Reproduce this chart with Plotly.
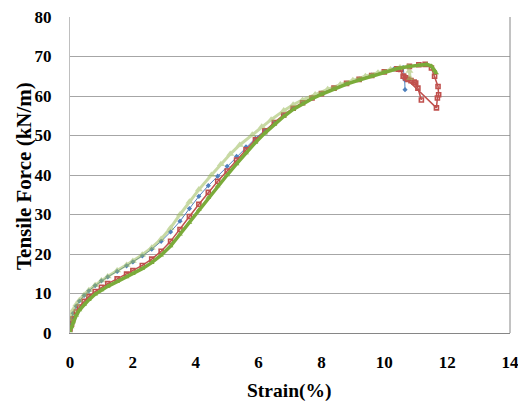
import plotly.graph_objects as go

# ---- data ----
blue_x = [0, 0.05, 0.1, 0.2, 0.3, 0.45, 0.6, 0.8, 1.0, 1.2, 1.5, 1.8, 2.0, 2.3, 2.6, 2.9, 3.2, 3.5, 3.8, 4.1,
          4.4, 4.7, 5.0, 5.3, 5.6, 5.9, 6.2, 6.5, 6.8, 7.1, 7.4, 7.7, 8.0, 8.4, 8.8, 9.2, 9.6, 10.0, 10.3, 10.6,
          10.65, 10.66]
blue_y = [2.5, 3.8, 5.0, 6.8, 8.1, 9.5, 10.7, 12.0, 13.2, 14.2, 15.6, 17.0, 18.0, 19.5, 21.2, 23.2, 25.6, 28.3, 31.5, 34.6,
          37.3, 39.7, 42.2, 44.7, 47.1, 49.3, 51.3, 53.3, 55.1, 56.8, 58.3, 59.6, 60.7, 62.0, 63.2, 64.3, 65.3, 66.2, 66.8, 67.2,
          64.1, 61.6]

red_x = [0, 0.05, 0.1, 0.2, 0.3, 0.45, 0.6, 0.8, 1.0, 1.2, 1.5, 1.8, 2.0, 2.3, 2.6, 2.9, 3.2, 3.5, 3.8, 4.1,
         4.4, 4.7, 5.0, 5.3, 5.6, 5.9, 6.2, 6.5, 6.8, 7.1, 7.4, 7.7, 8.0, 8.4, 8.8, 9.2, 9.6, 10.0, 10.4, 10.8,
         11.1, 11.3, 11.5, 11.6, 11.71, 11.73, 11.69, 11.66, 10.62]
red_y = [1.0, 2.2, 3.6, 5.3, 6.6, 8.0, 9.2, 10.5, 11.6, 12.5, 13.7, 14.9, 15.8, 17.1, 18.7, 20.7, 23.2, 26.2, 29.5, 32.6,
         35.6, 38.4, 41.0, 43.8, 46.4, 48.9, 51.2, 53.3, 55.2, 56.9, 58.3, 59.5, 60.6, 62.0, 63.2, 64.2, 65.2, 66.1, 66.9, 67.5,
         67.9, 68.0, 67.1, 65.0, 62.4, 60.3, 59.5, 57.0, 65.0]

red2_x = [10.45, 10.52, 10.6, 10.68, 10.75, 10.85, 10.95, 11.0, 11.07, 11.18]
red2_y = [66.8, 66.7, 65.0, 64.6, 64.2, 63.9, 63.5, 63.3, 62.0, 59.0]

lgreen_x = [0, 0.05, 0.1, 0.2, 0.3, 0.45, 0.6, 0.8, 1.0, 1.2, 1.5, 1.8, 2.0, 2.3, 2.6, 2.9, 3.2, 3.5, 3.8, 4.1,
            4.5, 4.8, 5.1, 5.4, 5.8, 6.1, 6.4, 6.8, 7.1, 7.4, 7.8, 8.2, 8.6, 9.0, 9.4, 9.8, 10.2, 10.5, 10.75, 10.8,
            10.82]
lgreen_y = [3.5, 4.8, 5.8, 7.2, 8.3, 9.6, 10.8, 12.1, 13.3, 14.3, 15.8, 17.2, 18.2, 19.8, 21.6, 23.8, 26.6, 30.0, 33.2, 36.3,
            40.0, 42.7, 45.3, 47.6, 50.2, 52.2, 54.0, 56.3, 57.8, 59.0, 60.4, 61.7, 62.9, 64.0, 65.0, 65.9, 66.7, 67.2, 67.5, 66.3,
            64.5]

dgreen_x = [0, 0.05, 0.1, 0.2, 0.3, 0.45, 0.6, 0.8, 1.0, 1.2, 1.5, 1.8, 2.0, 2.3, 2.6, 2.9, 3.2, 3.5, 3.8, 4.1,
            4.4, 4.7, 5.0, 5.3, 5.6, 5.9, 6.2, 6.5, 6.8, 7.1, 7.4, 7.7, 8.0, 8.4, 8.8, 9.2, 9.6, 10.0, 10.4, 10.8,
            11.1, 11.35, 11.5, 11.6, 11.65]
dgreen_y = [0.5, 1.5, 2.8, 4.5, 5.8, 7.2, 8.4, 9.8, 10.9, 11.8, 13.0, 14.2, 15.0, 16.3, 17.8, 19.7, 22.0, 25.0, 28.0, 31.2,
            34.3, 37.2, 40.0, 42.8, 45.6, 48.2, 50.6, 52.8, 54.8, 56.6, 58.0, 59.3, 60.4, 61.8, 63.0, 64.0, 65.0, 66.1, 66.9, 67.5,
            67.8, 68.0, 67.6, 66.5, 65.8]

x_ticks = [0, 2, 4, 6, 8, 10, 12, 14]
y_ticks = [0, 10, 20, 30, 40, 50, 60, 70, 80]
x_title = "Strain(%)"
y_title = "Tensile Force (kN/m)"

FONT = "Liberation Serif, Times New Roman, serif"
W, H = 518, 405
ML, MR, MT, MB = 70, 8, 17, 72

fig = go.Figure()
fig.add_trace(go.Scatter(x=blue_x, y=blue_y, mode="lines+markers",
                         line=dict(color="#4F81BD", width=1),
                         marker=dict(symbol="diamond", size=4, color="#4F81BD")))
fig.add_trace(go.Scatter(x=red_x, y=red_y, mode="lines+markers",
                         line=dict(color="#C0504D", width=1.5),
                         marker=dict(symbol="square-open", size=4, color="#C0504D", line=dict(width=1.6))))
fig.add_trace(go.Scatter(x=red2_x, y=red2_y, mode="lines+markers",
                         line=dict(color="#C0504D", width=1.5),
                         marker=dict(symbol="square-open", size=4, color="#C0504D", line=dict(width=1.6))))
fig.add_trace(go.Scatter(x=lgreen_x, y=lgreen_y, mode="lines+markers", opacity=0.55,
                         line=dict(color="#9BBB59", width=3),
                         marker=dict(symbol="triangle-up", size=7, color="#9BBB59")))
fig.add_trace(go.Scatter(x=dgreen_x, y=dgreen_y, mode="lines+markers",
                         line=dict(color="#7AAB3A", width=3.5),
                         marker=dict(symbol="triangle-up", size=5, color="#7AAB3A")))

plot_w = W - ML - MR
plot_h = H - MT - MB

fig.update_layout(
    width=W, height=H,
    margin=dict(l=ML, r=MR, t=MT, b=MB, autoexpand=False),
    paper_bgcolor="white", plot_bgcolor="white",
    showlegend=False,
    font=dict(family=FONT, color="black"),
    xaxis=dict(range=[0, 14], tickvals=x_ticks, showgrid=False, zeroline=False, automargin=False,
               showline=True, linecolor="#868686", linewidth=1, ticks="",
               tickfont=dict(family=FONT, size=17, color="black", weight="bold"),
               ticklabelstandoff=14, ticklabeloverflow="allow"),
    yaxis=dict(range=[0, 80], tickvals=y_ticks, showgrid=True, gridcolor="#A6A6A6", gridwidth=1,
               zeroline=False, showline=True, linecolor="#BFBFBF", linewidth=1, ticks="", automargin=False,
               tickfont=dict(family=FONT, size=17, color="black", weight="bold"),
               ticklabelstandoff=14, ticklabeloverflow="allow"),
    shapes=[dict(type="line", xref="paper", yref="paper", x0=1, x1=1, y0=0, y1=1,
                 line=dict(color="#868686", width=1))],
    annotations=[
        dict(text="<b>" + x_title + "</b>", xref="paper", yref="paper",
             x=(289 - ML) / plot_w, y=-(391 - (H - MB)) / plot_h, xanchor="center", yanchor="middle",
             showarrow=False, font=dict(family=FONT, size=19.5, color="black")),
        dict(text="<b>" + y_title + "</b>", xref="paper", yref="paper", textangle=-90,
             x=-(ML - 24) / plot_w, y=((H - MB) - 176) / plot_h, xanchor="center", yanchor="middle",
             showarrow=False, font=dict(family=FONT, size=21, color="black")),
    ],
)

fig.write_html("out.html", config={"displayModeBar": False},
               post_script="document.body.style.margin='0';document.body.style.overflow='hidden';")
